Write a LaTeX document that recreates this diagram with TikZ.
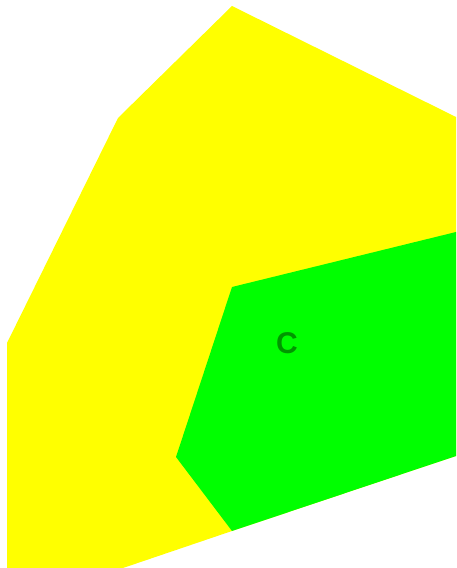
\documentclass[tikz,border=0pt]{standalone}
\usepackage{fontspec}
\setmainfont{Liberation Sans}
\definecolor{yel}{RGB}{255,255,0}
\definecolor{grn}{RGB}{0,255,0}
\definecolor{lbl}{RGB}{0,150,0}
\begin{document}
\begin{tikzpicture}[x=1pt,y=1pt,
  region/.style={draw=none},
  lab/.style={text=lbl,font=\bfseries\fontsize{30}{32}\selectfont,inner sep=0pt}]
\useasboundingbox (0,0) rectangle (456,568);
\clip (0,0) rectangle (456,568);
\fill[yel,region] (232,562) -- (456,451) -- (456,112) -- (232,37) -- (123,0) -- (7,0) -- (7,225) -- (118,450) -- cycle;
\fill[grn,region] (232,281) -- (456,336) -- (456,112) -- (232,37) -- (176,111) -- cycle;
\node[lab] (c) at (287,225) {C};
\end{tikzpicture}
\end{document}
